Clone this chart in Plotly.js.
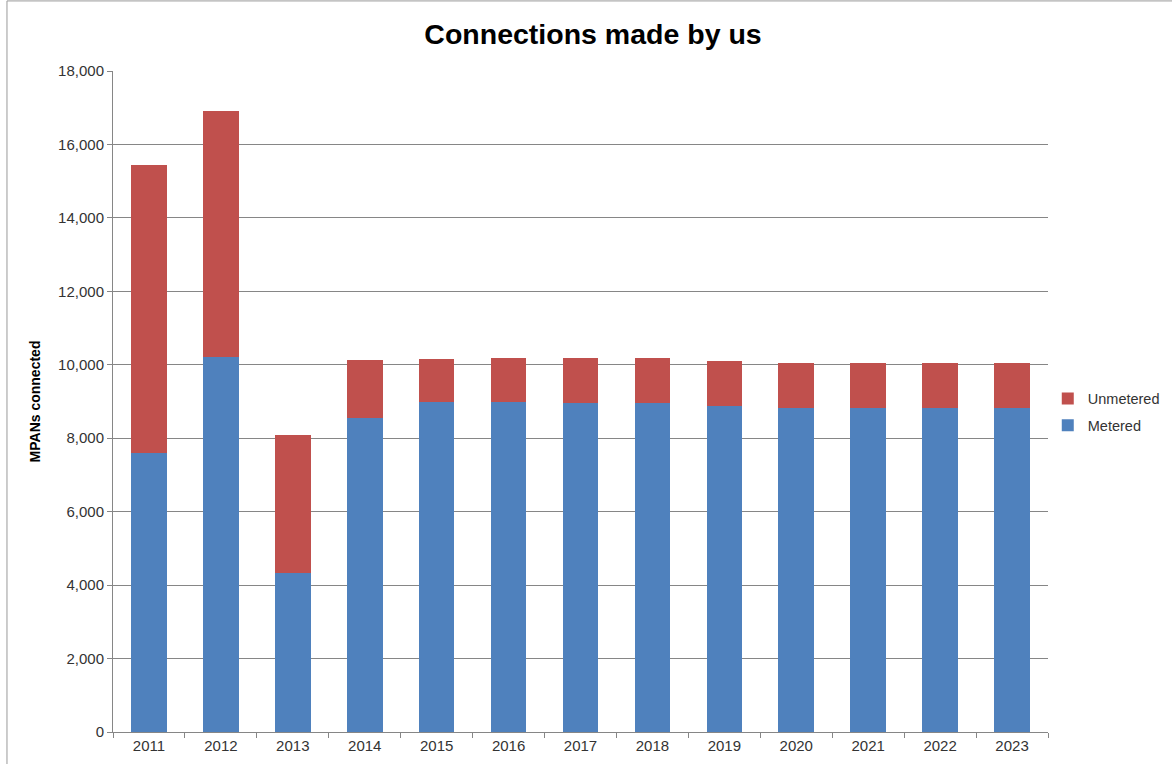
<!DOCTYPE html>
<html>
<head>
<meta charset="utf-8">
<script src="https://cdn.plot.ly/plotly-3.0.1.min.js"></script>
<style>html,body{margin:0;padding:0;background:#fff;}#chart{width:1172px;height:764px;}</style>
</head>
<body>
<div id="chart"></div>
<script>
const years = ['2011','2012','2013','2014','2015','2016','2017','2018','2019','2020','2021','2022','2023'];
const metered = [7600, 10210, 4330, 8540, 8980, 8980, 8970, 8960, 8890, 8830, 8830, 8830, 8830];
const totals  = [15440, 16910, 8090, 10140, 10170, 10190, 10190, 10190, 10110, 10060, 10060, 10060, 10060];
const unmetered = totals.map((t, i) => t - metered[i]);
const yTicks = [0, 2000, 4000, 6000, 8000, 10000, 12000, 14000, 16000, 18000];

const font = 'Liberation Sans, Arial, sans-serif';
const data = [
  {type:'bar', name:'Metered', legendgroup:'m', legendrank:2, x: years, y: metered, marker:{color:'#4F81BD'}, hoverinfo:'y'},
  {type:'bar', name:'Unmetered', legendgroup:'u', legendrank:1, x: years, y: unmetered, marker:{color:'#C0504D'}, hoverinfo:'y'}
];
const layout = {
  width:1172, height:764,
  margin:{l:113, r:124, t:71, b:32, pad:0, autoexpand:false},
  paper_bgcolor:'#fff', plot_bgcolor:'#fff',
  barmode:'stack', bargap:0.505,
  font:{family:font, size:14, color:'#333'},
  title:{text:'<b>Connections made by us</b>', font:{family:font, size:28.5, color:'#000'}, x:593/1172, xref:'container', xanchor:'center', y:0.955, yanchor:'middle'},
  xaxis:{type:'category', tickvals: years, ticktext: years, showline:true, linecolor:'#868686', linewidth:1,
         ticks:'outside', tickson:'boundaries', ticklen:5, tickcolor:'#868686', showgrid:false,
         tickfont:{family:font, size:15, color:'#333'}},
  yaxis:{range:[0,18000], tickvals: yTicks, tickformat:',d', showline:true, linecolor:'#868686', linewidth:1,
         ticks:'outside', ticklen:5, tickcolor:'#868686', gridcolor:'#868686', gridwidth:1,
         zeroline:false, tickfont:{family:font, size:15, color:'#333'},
         title:{text:'<b>MPANs connected</b>', font:{family:font, size:14, color:'#000'}, standoff:14}},
  legend:{xref:'container', yref:'container', x:0.894, xanchor:'left', y:(764-412)/764, yanchor:'middle', traceorder:'grouped',
          font:{family:font, size:14.5, color:'#333'}, itemwidth:30, tracegroupgap:5},
  shapes:[
    {type:'line', xref:'paper', yref:'paper', x0:-0.1134, x1:-0.1134, y0:-0.06, y1:1.106, line:{color:'#999', width:1}},
    {type:'line', xref:'paper', yref:'paper', x0:-0.1134, x1:1.14, y0:1.106, y1:1.106, line:{color:'#999', width:1}}
  ]
};
Plotly.newPlot('chart', data, layout, {displayModeBar:false, staticPlot:true});
</script>
</body>
</html>
